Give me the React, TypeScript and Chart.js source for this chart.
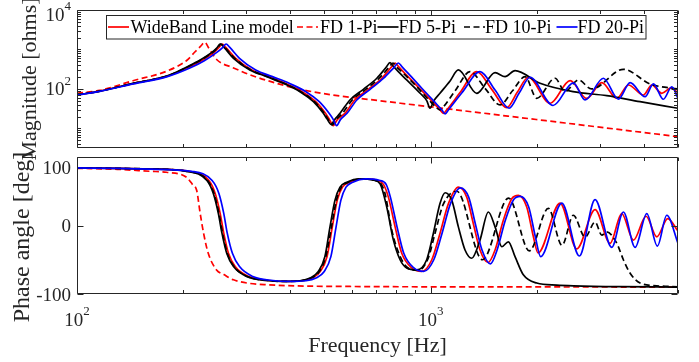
import React, { useEffect, useRef } from "react";
import { Chart, registerables } from "chart.js";
Chart.register(...registerables);

type Pt = [number, number];

const W = 699;
const H = 362;
const FONT = '"Liberation Serif", "Times New Roman", serif';
const AXIS_COLOR = "#262626";

const X_MIN = 100;
const X_MAX = 5000;
const MAG_MIN = 3.2;
const MAG_MAX = 10000;
const PH_MIN = -100;
const PH_MAX = 100;

const seriesLabels = ["WideBand Line model", "FD 1-Pi", "FD 5-Pi", "FD 10-Pi", "FD 20-Pi"];
const seriesColors = ["#ff0000", "#ff0000", "#000000", "#000000", "#0000ff"];
const seriesDashed = [false, true, false, true, false];
const seriesOrder = [4, 3, 2, 1, 0];

const xMajorTicks = [100, 1000];
const xMinorTicks = [200, 300, 400, 500, 600, 700, 800, 900, 2000, 3000, 4000, 5000];
const magMajorTicks = [100, 10000];
const magMinorTicks = [4, 5, 6, 7, 8, 9, 10, 20, 30, 40, 50, 60, 70, 80, 90, 200, 300, 400, 500, 600, 700, 800, 900, 1000, 2000, 3000, 4000, 5000, 6000, 7000, 8000, 9000];
const phaseTicks = [-100, 0, 100];
const xTickLabels: [number, string, string][] = [[100, "10", "2"], [1000, "10", "3"]];
const magTickLabels: [number, string, string][] = [[100, "10", "2"], [10000, "10", "4"]];
const phaseTickLabels: [number, string][] = [[100, "100"], [0, "0"], [-100, "-100"]];

// ---------- Magnitude [ohms] vs frequency [Hz] ----------
const magWideBand: Pt[] = [[100,70.4],[116,88],[144,137],[180,212],[208,362],[226,535],[245,875],[252,1120],[257,1377],[263,1145],[281,599],[312,303],[349,205],[388,139],[433,85.5],[473,47.6],[504,24.2],[517,17],[530,11.8],[545,17],[572,24.2],[610,52.7],[666,98],[727,187],[773,354],[793,455],[812,362],[846,245],[927,106],[1009,48.3],[1062,29.5],[1086,24.2],[1110,29.5],[1210,81],[1349,274],[1491,95],[1640,33.5],[1754,81],[1888,198],[2175,43.4],[2477,162],[2761,57.5],[3044,145],[3357,58.2],[3620,126],[3991,70.4],[4216,126],[4499,77.8],[4779,106],[5000,80.6]];
const magFD1: Pt[] = [[100,78],[116,92],[144,162],[180,286],[205,542],[215,850],[223,1178],[230,1521],[235,1135],[249,542],[276,346],[315,213],[367,139],[427,98],[529,70.4],[719,50.3],[1134,30.8],[2037,16.4],[5000,6.2]];
const magFD5: Pt[] = [[100,70.4],[116,88],[144,138],[180,215],[205,367],[223,542],[242,880],[249,1120],[254,1377],[260,1145],[277,599],[308,303],[344,205],[383,139],[427,85.5],[466,47.6],[497,24.2],[509,17.5],[522,12.8],[537,17.5],[554,24.2],[591,52.7],[645,98],[704,187],[748,354],[767,463],[786,362],[855,169],[933,77.8],[975,50],[995,32.5],[1020,50],[1062,77.8],[1134,160],[1197,303],[1349,77.8],[1520,259],[1622,205],[1731,291],[2037,139],[2525,85.5],[3145,67.7],[3906,47.6],[5000,32.5]];
const magFD10: Pt[] = [[100,70.4],[116,88],[144,138],[180,214],[206,366],[224,540],[243,878],[250,1120],[255,1377],[261,1145],[279,599],[310,303],[346,205],[385,139],[429,85.5],[469,47.6],[500,24.2],[513,17],[526,12.3],[541,17],[563,24.2],[600,52.7],[655,98],[715,187],[762,354],[782,455],[800,362],[835,254],[912,116],[990,51.5],[1040,33],[1062,29.4],[1085,35],[1172,90],[1291,274],[1424,104],[1570,39.4],[1703,90],[1848,205],[1994,58],[2246,187],[2397,86],[2614,169],[2850,100],[3504,315],[4169,134],[5000,100]];
const magFD20: Pt[] = [[100,70],[116,87],[144,134],[180,206],[210,350],[229,520],[249,860],[258,1120],[264,1377],[270,1145],[288,599],[320,303],[357,205],[398,139],[444,85.5],[484,47.6],[516,24.2],[530,17],[542,11.8],[556,17],[580,24.2],[618,52.7],[674,98],[736,187],[788,354],[810,455],[830,362],[865,245],[942,106],[1022,48.3],[1075,29.5],[1098,23.3],[1122,29.5],[1225,80],[1378,274],[1520,94],[1665,32.5],[1780,80],[1909,198],[2217,38.2],[2530,143],[2731,52.7],[3076,187],[3392,55],[3661,144],[4035,63.8],[4260,134],[4546,55],[4801,114],[5000,58]];

// ---------- Phase angle [deg] vs frequency [Hz] ----------
const phWideBand: Pt[] = [[100,84],[130,83.5],[161,82.5],[207,79.1],[236,65.6],[246,46.4],[254,17.4],[260,-11.6],[268,-40.6],[280,-60],[306,-74.5],[348,-80.3],[388,-81.7],[432,-80.7],[462,-76.8],[487,-67.2],[509,-45.5],[527,-2],[544,36.7],[563,56],[590,63.2],[645,68],[705,66],[735,60],[759,41.4],[793,-2],[828,-40.6],[884,-62],[943,-67],[1007,-50],[1062,-11.6],[1122,32],[1197,56],[1264,41.4],[1319,3],[1378,-35.8],[1452,-54],[1520,-35.8],[1604,7.7],[1694,39],[1769,43.9],[1868,27],[1950,-16],[2010,-40],[2321,32.8],[2587,-34],[2914,23.2],[3213,-26],[3467,17.4],[3740,-21.3],[4062,13.5],[4355,-16.5],[4677,10.1],[5000,-8]];
const phFD1: Pt[] = [[100,83.5],[130,82],[161,79.1],[179,77.7],[204,70.4],[212,60],[218,51],[223,17.4],[228,-11.6],[235,-40.6],[248,-64.8],[260,-71.5],[277,-79.3],[344,-86.5],[591,-89],[1500,-89.6],[5000,-89.9]];
const phFD5: Pt[] = [[100,84],[130,83.5],[161,82.5],[204,79.1],[233,65.6],[243,46.4],[251,17.4],[257,-11.6],[265,-40.6],[277,-60],[302,-74.5],[344,-80.3],[383,-81.7],[427,-80.7],[456,-76.8],[481,-67.2],[502,-45.5],[519,-2],[536,36.7],[554,56],[579,63.2],[631,68],[690,66],[719,60.9],[751,27],[784,-21],[819,-50],[855,-62],[913,-64.8],[974,-50],[1017,-11.6],[1062,32],[1098,47.8],[1147,36.7],[1197,-2],[1250,-35.8],[1306,-47.8],[1378,-21.3],[1455,19.7],[1520,-2],[1588,-31],[1657,-23.8],[1731,-45.5],[1827,-72],[1994,-84],[2270,-87],[2531,-88],[3400,-89.3],[5000,-89.9]];
const phFD10: Pt[] = [[100,84],[130,83.5],[161,82.5],[205,79.1],[234,65.6],[244,46.4],[252,17.4],[258,-11.6],[266,-40.6],[278,-60],[303,-74.5],[346,-80.3],[385,-81.7],[429,-80.7],[459,-76.8],[484,-67.2],[505,-45.5],[524,-2],[541,36.7],[559,56],[585,63.2],[636,68],[695,66],[725,60],[743,46],[776,-6.8],[819,-45],[863,-62],[923,-65.5],[983,-48],[1028,-11.6],[1083,30],[1185,50],[1400,-50],[1660,40],[1900,-37],[2150,25],[2350,-29],[2530,15],[2731,-17],[2914,5],[3044,-14],[3145,-9.3],[3357,-26],[3504,-50],[3661,-69.6],[3906,-84],[4355,-88],[5000,-89.5]];
const phFD20: Pt[] = [[100,84],[130,83.5],[161,82.3],[211,79.1],[241,65.6],[252,46.4],[260,17.4],[266,-11.6],[275,-40.6],[288,-60],[314,-74.5],[358,-80.3],[398,-81.7],[444,-80.7],[474,-76.8],[500,-67.2],[522,-45.5],[540,-2],[557,36.7],[576,56],[602,63.2],[655,68],[715,66],[748,60],[769,41.4],[803,-2],[839,-40.6],[896,-62],[955,-67],[1020,-50],[1076,-11.6],[1137,32],[1212,55],[1280,41.4],[1336,3],[1396,-35.8],[1475,-56],[1540,-35.8],[1625,7.7],[1716,38],[1792,42.5],[1892,27],[1975,-16],[2045,-45.5],[2347,32.8],[2631,-44.5],[2914,37.7],[3249,-31.9],[3504,19.7],[3782,-31.9],[4081,17.4],[4372,-30],[4648,15],[5000,-26]];

const magSeries = [magWideBand, magFD1, magFD5, magFD10, magFD20];
const phSeries = [phWideBand, phFD1, phFD5, phFD10, phFD20];

// ---------- layout ----------
const PLOT_LEFT = 77;
const PLOT_RIGHT = 678;
const MAG_TOP = 10;
const MAG_BOTTOM = 148;
const PH_TOP = 157;
const PH_BOTTOM = 294;

const TICK_FONT = 19;
const SUP_FONT = 13;
const SUP_RAISE = 10.5;
const TITLE_FONT = 22;
const PH_TITLE_FONT = 24;
const LEGEND_FONT = 18;
const MAJOR_LEN = 6;
const MINOR_LEN = 3.5;
const LINE_W = 1.7;

const legendBox = { x: 106.5, y: 15.5, w: 539.5, h: 23.5 };
const legendSampleX = [108, 297, 377.5, 464, 556.5];
const legendTextX = [130.5, 320, 398.5, 485, 577.5];
const legendSampleY = 27;
const legendTextBaseline = 33.3;
const dashPattern = [6, 3.5];

function makeDatasets(series: Pt[][]) {
  return series.map((s, i) => ({
    label: seriesLabels[i],
    data: s.map(([x, y]) => ({ x, y })),
    borderColor: seriesColors[i],
    backgroundColor: seriesColors[i],
    borderWidth: LINE_W,
    borderDash: seriesDashed[i] ? dashPattern : [],
    pointRadius: 0,
    pointHoverRadius: 0,
    fill: false,
    cubicInterpolationMode: "monotone" as const,
    order: seriesOrder[i],
  }));
}

function drawPow(ctx: CanvasRenderingContext2D, base: string, exp: string, x: number, baseline: number, align: "right" | "center") {
  ctx.font = `${TICK_FONT}px ${FONT}`;
  const wb = ctx.measureText(base).width;
  ctx.font = `${SUP_FONT}px ${FONT}`;
  const we = ctx.measureText(exp).width;
  const total = wb + we;
  const x0 = align === "right" ? x - total : x - total / 2;
  ctx.textAlign = "left";
  ctx.textBaseline = "alphabetic";
  ctx.font = `${TICK_FONT}px ${FONT}`;
  ctx.fillText(base, x0, baseline);
  ctx.font = `${SUP_FONT}px ${FONT}`;
  ctx.fillText(exp, x0 + wb, baseline - SUP_RAISE);
}

function drawFrame(chart: any, yMajor: number[], yMinor: number[]) {
  const ctx: CanvasRenderingContext2D = chart.ctx;
  const a = chart.chartArea;
  const xs = chart.scales.x;
  const ys = chart.scales.y;
  ctx.save();
  ctx.strokeStyle = AXIS_COLOR;
  ctx.lineWidth = 1;
  ctx.setLineDash([]);
  const L = Math.round(a.left) + 0.5;
  const R = Math.round(a.right) - 0.5;
  const T = Math.round(a.top) + 0.5;
  const B = Math.round(a.bottom) - 0.5;
  ctx.beginPath();
  ctx.rect(L, T, R - L, B - T);
  const xt = (v: number, len: number) => {
    const p = Math.round(xs.getPixelForValue(v)) + 0.5;
    ctx.moveTo(p, B); ctx.lineTo(p, B - len);
    ctx.moveTo(p, T); ctx.lineTo(p, T + len);
  };
  const yt = (v: number, len: number) => {
    const p = Math.round(ys.getPixelForValue(v)) + 0.5;
    ctx.moveTo(L, p); ctx.lineTo(L + len, p);
    ctx.moveTo(R, p); ctx.lineTo(R - len, p);
  };
  xMajorTicks.forEach((v) => xt(v, MAJOR_LEN));
  xMinorTicks.forEach((v) => xt(v, MINOR_LEN));
  yMajor.forEach((v) => yt(v, MAJOR_LEN));
  yMinor.forEach((v) => yt(v, MINOR_LEN));
  ctx.stroke();
  ctx.restore();
}

const magPlugin = {
  id: "magAxes",
  afterDraw(chart: any) {
    const ctx: CanvasRenderingContext2D = chart.ctx;
    drawFrame(chart, magMajorTicks, magMinorTicks);
    const ys = chart.scales.y;
    ctx.save();
    ctx.fillStyle = AXIS_COLOR;
    magTickLabels.forEach(([v, b, e]) => {
      const p = Math.max(ys.getPixelForValue(v), MAG_TOP + 4.5);
      drawPow(ctx, b, e, 71, p + 6.3, "right");
    });
    // y title
    ctx.save();
    ctx.translate(35.5, (MAG_TOP + MAG_BOTTOM) / 2);
    ctx.rotate(-Math.PI / 2);
    ctx.font = `${TITLE_FONT}px ${FONT}`;
    ctx.textAlign = "center";
    ctx.textBaseline = "alphabetic";
    ctx.fillText("Magnitude [ohms]", 0, 0);
    ctx.restore();
    // legend
    ctx.fillStyle = "#ffffff";
    ctx.fillRect(legendBox.x, legendBox.y, legendBox.w, legendBox.h);
    ctx.strokeStyle = AXIS_COLOR;
    ctx.lineWidth = 1;
    ctx.strokeRect(legendBox.x, legendBox.y, legendBox.w, legendBox.h);
    ctx.font = `${LEGEND_FONT}px ${FONT}`;
    ctx.textAlign = "left";
    ctx.textBaseline = "alphabetic";
    seriesLabels.forEach((lab, i) => {
      ctx.beginPath();
      ctx.strokeStyle = seriesColors[i];
      ctx.lineWidth = LINE_W;
      ctx.setLineDash(seriesDashed[i] ? dashPattern : []);
      ctx.moveTo(legendSampleX[i], legendSampleY);
      ctx.lineTo(legendSampleX[i] + 21, legendSampleY);
      ctx.stroke();
      ctx.setLineDash([]);
      ctx.fillStyle = "#000000";
      ctx.fillText(lab, legendTextX[i], legendTextBaseline);
    });
    ctx.restore();
  },
};

const phasePlugin = {
  id: "phaseAxes",
  afterDraw(chart: any) {
    const ctx: CanvasRenderingContext2D = chart.ctx;
    drawFrame(chart, phaseTicks, []);
    const xs = chart.scales.x;
    const ys = chart.scales.y;
    ctx.save();
    ctx.fillStyle = AXIS_COLOR;
    ctx.font = `${TICK_FONT}px ${FONT}`;
    ctx.textAlign = "right";
    ctx.textBaseline = "alphabetic";
    phaseTickLabels.forEach(([v, t]) => {
      let p = ys.getPixelForValue(v);
      if (v === PH_MAX) p += 10.5;
      ctx.fillText(t, 71, p + 6.5);
    });
    xTickLabels.forEach(([v, b, e]) => {
      drawPow(ctx, b, e, xs.getPixelForValue(v), 325.5, "center");
    });
    ctx.font = `${TITLE_FONT}px ${FONT}`;
    ctx.textAlign = "center";
    ctx.fillText("Frequency [Hz]", (PLOT_LEFT + PLOT_RIGHT) / 2, 352);
    ctx.save();
    ctx.translate(28.5, 237);
    ctx.rotate(-Math.PI / 2);
    ctx.font = `${PH_TITLE_FONT}px ${FONT}`;
    ctx.fillText("Phase angle [deg]", 0, 0);
    ctx.restore();
    ctx.restore();
  },
};

function baseOptions(top: number, bottom: number, yType: string, yMin: number, yMax: number) {
  return {
    animation: false,
    responsive: false,
    maintainAspectRatio: false,
    devicePixelRatio: 1,
    events: [],
    layout: { padding: { left: PLOT_LEFT, right: W - PLOT_RIGHT, top, bottom: H - bottom } },
    plugins: { legend: { display: false }, tooltip: { enabled: false }, title: { display: false } },
    scales: {
      x: { type: "logarithmic", min: X_MIN, max: X_MAX, display: false },
      y: { type: yType, min: yMin, max: yMax, display: false },
    },
  };
}

export default function App() {
  const magRef = useRef<HTMLCanvasElement | null>(null);
  const phRef = useRef<HTMLCanvasElement | null>(null);

  useEffect(() => {
    const c1 = new Chart(magRef.current as HTMLCanvasElement, {
      type: "line",
      data: { datasets: makeDatasets(magSeries) as any },
      options: baseOptions(MAG_TOP, MAG_BOTTOM, "logarithmic", MAG_MIN, MAG_MAX) as any,
      plugins: [magPlugin],
    });
    const c2 = new Chart(phRef.current as HTMLCanvasElement, {
      type: "line",
      data: { datasets: makeDatasets(phSeries) as any },
      options: baseOptions(PH_TOP, PH_BOTTOM, "linear", PH_MIN, PH_MAX) as any,
      plugins: [phasePlugin],
    });
    return () => {
      c1.destroy();
      c2.destroy();
    };
  }, []);

  const cs: React.CSSProperties = { position: "absolute", left: 0, top: 0, width: W, height: H };
  return (
    <div style={{ position: "fixed", left: 0, top: 0, width: W, height: H, background: "#ffffff", overflow: "hidden" }}>
      <canvas ref={phRef} width={W} height={H} style={cs} />
      <canvas ref={magRef} width={W} height={H} style={cs} />
    </div>
  );
}
